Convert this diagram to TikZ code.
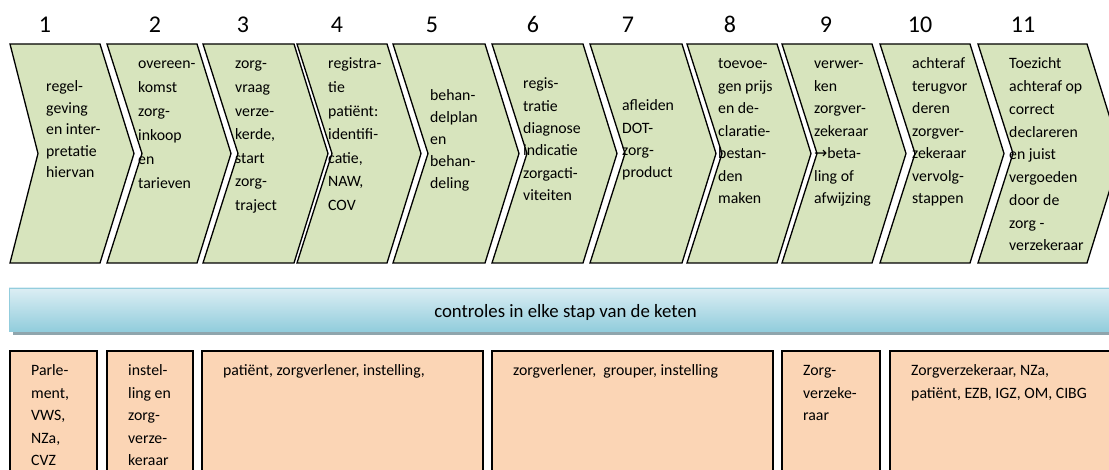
\documentclass[tikz,border=0pt]{standalone}
\usepackage{fontspec}
\setmainfont{Carlito}
\newfontfamily\arrowfont{DejaVu Sans}
\usepackage{xcolor}
\usetikzlibrary{positioning}
\definecolor{stepgreen}{HTML}{D7E4BD}
\definecolor{actorfill}{HTML}{FBD5B5}
\definecolor{barlight}{HTML}{DCEEF4}
\definecolor{bardark}{HTML}{92CDDC}
\definecolor{baredge}{HTML}{93CDDD}
\definecolor{barshadow}{HTML}{8FA5AD}

\begin{document}
\begin{tikzpicture}[x=1pt, y=-1pt,
    stepshape/.style = {draw, line width=1.3pt, fill=stepgreen, line join=miter},
    steptext/.style = {anchor=north west, inner sep=0pt, align=left},
    stepnum/.style = {inner sep=0pt, font=\fontsize{24}{28}\selectfont},
    actorbox/.style = {draw, line width=2.4pt, fill=actorfill},
    actortext/.style = {anchor=north west, inner sep=0pt, align=left, font=\fontsize{15.8}{22.5}\selectfont}]
    \useasboundingbox (0,0) rectangle (1109,470);
    \foreach \l/\r/\nx/\tx/\ty/\sk/\txt [count=\i] in {
        10/100/45/46/88/21.5/{regel-\\geving\\en inter-\\pretatie\\hiervan},
        107/197/155/138/65/24/{overeen-\\komst\\zorg-\\inkoop\\en\\tarieven},
        203/294/243/235/65/23.6/{zorg-\\vraag\\verze-\\kerde,\\start\\zorg-\\traject},
        297/387/337/328/65/23.6/{registra-\\tie\\patiënt:\\identifi-\\catie,\\NAW,\\COV},
        393/485/432/430/97/22/{behan-\\delplan\\en\\behan-\\deling},
        492/583/533/523/85/22.3/{regis-\\tratie\\diagnose\\indicatie\\zorgacti-\\viteiten},
        590/682/628/622/107/22.2/{afleiden\\DOT-\\zorg-\\product},
        687/777/730/718/65/22.5/{toevoe-\\gen prijs\\en de-\\claratie-\\bestan-\\den\\maken},
        782/872/826/814/65/22.5/{verwer-\\ken\\zorgver-\\zekeraar\\{\arrowfont →}beta-\\ling of\\afwijzing},
        880/970/920/912/65/22.5/{achteraf\\terugvor\\deren\\zorgver-\\zekeraar\\vervolg-\\stappen},
        978/1087/1023/1009/65/22.75/{Toezicht\\achteraf op\\correct\\declareren\\en juist\\vergoeden\\door de\\zorg -\\verzekeraar}}{
        \pgfmathsetmacro\nd{\i==1 ? 28 : 35}
        \draw[stepshape] (\l,44) -- (\r,44) -- (\r+34,153.5) -- (\r,263) -- (\l,263) -- (\l+\nd,153.5) -- cycle;
        \node[stepnum] (num\i) at (\nx,24.5) {\i};
        \node[steptext, font=\fontsize{15.8}{\sk}\selectfont] (step\i) at (\tx,{\ty+3.7-0.7*\sk}) {\strut\txt};
    }
    \fill[barshadow] (13,292) rectangle (1126,335);
    \shade[top color=barlight, bottom color=bardark, draw=baredge, line width=0.8pt] (9,288) rectangle (1122,331);
    \node[font=\fontsize{18.8}{22.5}\selectfont] (controls) at (565.5,312.5) {controles in elke stap van de keten};
    \foreach \l/\r/\txt [count=\i] in {
        10/97/{Parle-\\ment,\\VWS,\\NZa,\\CVZ},
        107/193/{instel-\\ling en\\zorg-\\verze-\\keraar},
        202/483/{patiënt, zorgverlener, instelling,},
        492/773/{zorgverlener,~ grouper, instelling},
        782/880/{Zorg-\\verzeke-\\raar},
        890/1130/{Zorgverzekeraar, NZa,\\patiënt, EZB, IGZ, OM, CIBG}}{
        \draw[actorbox] (\l,351) rectangle (\r,490);
        \node[actortext] (actor\i) at (\l+21,{372+3.7-0.7*22.5}) {\strut\txt};
    }
\end{tikzpicture}
\end{document}
